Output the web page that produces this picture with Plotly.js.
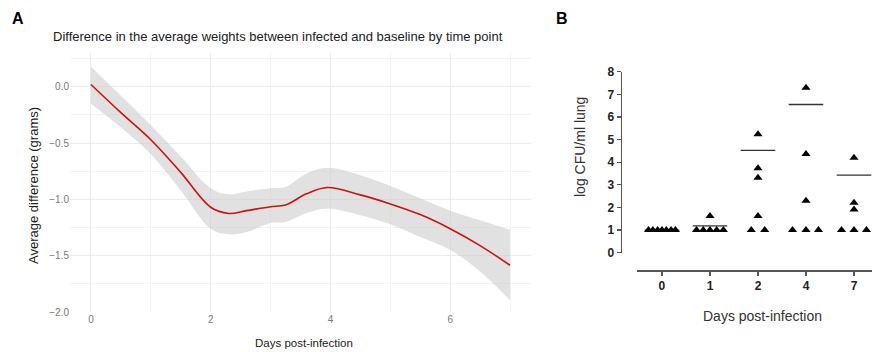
<!DOCTYPE html>
<html>
<head>
<meta charset="utf-8">
<script src="https://cdn.plot.ly/plotly-3.0.1.min.js"></script>
<style>html,body{margin:0;padding:0;background:#fff;}#chart{width:872px;height:352px;}</style>
</head>
<body>
<div id="chart"></div>
<script>
// Panel A: smoothed difference in weights
const daysA = [0, 0.5, 1, 1.5, 2, 2.3, 2.6, 3, 3.25, 3.6, 3.95, 4.5, 5, 5.5, 6, 6.5, 7];
const fitA  = [0.02, -0.23, -0.47, -0.76, -1.07, -1.125, -1.10, -1.065, -1.05, -0.95, -0.895, -0.96, -1.04, -1.135, -1.26, -1.41, -1.585];
const upperA = [0.18, -0.08, -0.34, -0.62, -0.90, -0.955, -0.93, -0.90, -0.89, -0.77, -0.72, -0.785, -0.88, -0.99, -1.10, -1.185, -1.27];
const lowerA = [-0.15, -0.36, -0.60, -0.92, -1.26, -1.31, -1.29, -1.21, -1.20, -1.12, -1.08, -1.14, -1.22, -1.335, -1.45, -1.64, -1.895];

// Panel B: log CFU per group
const groupLabels = ['0', '1', '2', '4', '7'];
const cfu0 = [1, 1, 1, 1, 1, 1, 1];
const off0 = [-0.28, -0.19, -0.09, 0, 0.09, 0.19, 0.28];
const cfu1 = [1, 1, 1, 1, 1, 1.62];
const off1 = [-0.28, -0.14, 0, 0.14, 0.28, 0];
const cfu2 = [1, 1, 1.62, 3.31, 3.73, 5.24];
const off2 = [-0.14, 0.14, 0, 0, 0, 0];
const cfu4 = [1, 1, 1, 2.30, 4.36, 7.29];
const off4 = [-0.28, 0, 0.26, 0, 0, 0];
const cfu7 = [1, 1, 1, 1.91, 2.21, 4.20];
const off7 = [-0.26, 0, 0.26, 0, 0, 0];
const groupLines = [1.0, 1.19, 4.52, 6.55, 3.43];

const FONT = 'Liberation Sans, Arial, Helvetica, sans-serif';
const W = 872, H = 352;
const px = v => v / W;
const py = v => 1 - v / H;

const groups = [cfu0, cfu1, cfu2, cfu4, cfu7];
const offsets = [off0, off1, off2, off4, off7];
const ptsX = [], ptsY = [];
groups.forEach((g, i) => g.forEach((v, j) => { ptsX.push(i + offsets[i][j]); ptsY.push(v); }));
const lineX = [], lineY = [];
groupLines.forEach((m, i) => { lineX.push(i - 0.36, i + 0.36, null); lineY.push(m, m, null); });

const traces = [
  {x: daysA, y: upperA, type: 'scatter', mode: 'lines', line: {width: 0, shape: 'spline'}, hoverinfo: 'skip', showlegend: false, xaxis: 'x', yaxis: 'y'},
  {x: daysA, y: lowerA, type: 'scatter', mode: 'lines', line: {width: 0, shape: 'spline'}, fill: 'tonexty', fillcolor: 'rgba(205,205,205,0.6)', hoverinfo: 'skip', showlegend: false, xaxis: 'x', yaxis: 'y'},
  {x: daysA, y: fitA, type: 'scatter', mode: 'lines', line: {color: '#cc1111', width: 1.6, shape: 'spline'}, showlegend: false, xaxis: 'x', yaxis: 'y'},
  {x: lineX, y: lineY, type: 'scatter', mode: 'lines', line: {color: '#333', width: 1.3}, showlegend: false, xaxis: 'x2', yaxis: 'y2', cliponaxis: false},
  {x: ptsX, y: ptsY, type: 'scatter', mode: 'markers', marker: {symbol: 'triangle-up', size: 8, color: '#000'}, showlegend: false, xaxis: 'x2', yaxis: 'y2', cliponaxis: false}
];

const layout = {
  width: W, height: H,
  margin: {l: 0, r: 0, t: 0, b: 0},
  paper_bgcolor: '#fff', plot_bgcolor: 'rgba(0,0,0,0)',
  font: {family: FONT},
  showlegend: false,
  xaxis: {
    domain: [px(70), px(531)], range: [-0.35, 7.35], anchor: 'y',
    tickmode: 'linear', tick0: 0, dtick: 2,
    showgrid: true, gridcolor: '#ebebeb', gridwidth: 1,
    minor: {tick0: 0, dtick: 1, showgrid: true, gridcolor: '#f3f3f3', gridwidth: 1},
    zeroline: false, showline: false, ticks: '',
    tickfont: {size: 10, color: '#7a7a7a', family: FONT}
  },
  yaxis: {
    domain: [py(312), py(53)], range: [-2.0, 0.3], anchor: 'x',
    tickmode: 'linear', tick0: 0, dtick: 0.5, tickformat: '.1f',
    showgrid: true, gridcolor: '#ebebeb', gridwidth: 1,
    minor: {tick0: 0, dtick: 0.25, showgrid: true, gridcolor: '#f3f3f3', gridwidth: 1},
    zeroline: false, showline: false, ticks: '',
    tickfont: {size: 10, color: '#7a7a7a', family: FONT}
  },
  xaxis2: {
    domain: [px(637), 1], range: [-0.52, 4.375], anchor: 'free', position: py(270),
    tickmode: 'array', tickvals: [0, 1, 2, 3, 4], ticktext: groupLabels,
    showgrid: false, zeroline: false, showline: true, linecolor: '#555', linewidth: 1.5,
    ticks: 'outside', ticklen: 4, tickcolor: '#555', tickwidth: 1.2,
    tickfont: {size: 12, color: '#222', family: FONT, weight: 'bold'}
  },
  yaxis2: {
    domain: [py(252.7), py(71.7)], range: [0, 8], anchor: 'free', position: px(620.7),
    tickmode: 'linear', tick0: 0, dtick: 1,
    showgrid: false, zeroline: false, showline: true, linecolor: '#555', linewidth: 1.3,
    ticks: 'outside', ticklen: 4, tickcolor: '#555', tickwidth: 1.2,
    tickfont: {size: 12, color: '#222', family: FONT, weight: 'bold'}
  },
  annotations: [
    {text: '<b>A</b>', x: px(10), y: py(18), xref: 'paper', yref: 'paper', xanchor: 'left', yanchor: 'middle', showarrow: false, font: {size: 16, color: '#000', family: FONT}},
    {text: '<b>B</b>', x: px(554), y: py(18), xref: 'paper', yref: 'paper', xanchor: 'left', yanchor: 'middle', showarrow: false, font: {size: 16, color: '#000', family: FONT}},
    {text: 'Difference in the average weights between infected and baseline by time point', x: px(51), y: py(36), xref: 'paper', yref: 'paper', xanchor: 'left', yanchor: 'middle', showarrow: false, font: {size: 13, color: '#222', family: FONT}},
    {text: 'Average difference (grams)', x: px(33), y: py(186), xref: 'paper', yref: 'paper', xanchor: 'center', yanchor: 'middle', textangle: -90, showarrow: false, font: {size: 13, color: '#222', family: FONT}},
    {text: 'Days post-infection', x: px(304), y: py(343), xref: 'paper', yref: 'paper', xanchor: 'center', yanchor: 'middle', showarrow: false, font: {size: 11.5, color: '#222', family: FONT}},
    {text: 'log CFU/ml lung', x: px(580), y: py(147), xref: 'paper', yref: 'paper', xanchor: 'center', yanchor: 'middle', textangle: -90, showarrow: false, font: {size: 14, color: '#333', family: FONT}},
    {text: 'Days post-infection', x: px(762), y: py(316), xref: 'paper', yref: 'paper', xanchor: 'center', yanchor: 'middle', showarrow: false, font: {size: 14, color: '#333', family: FONT}}
  ]
};

Plotly.newPlot('chart', traces, layout, {staticPlot: true, displayModeBar: false});
</script>
</body>
</html>
